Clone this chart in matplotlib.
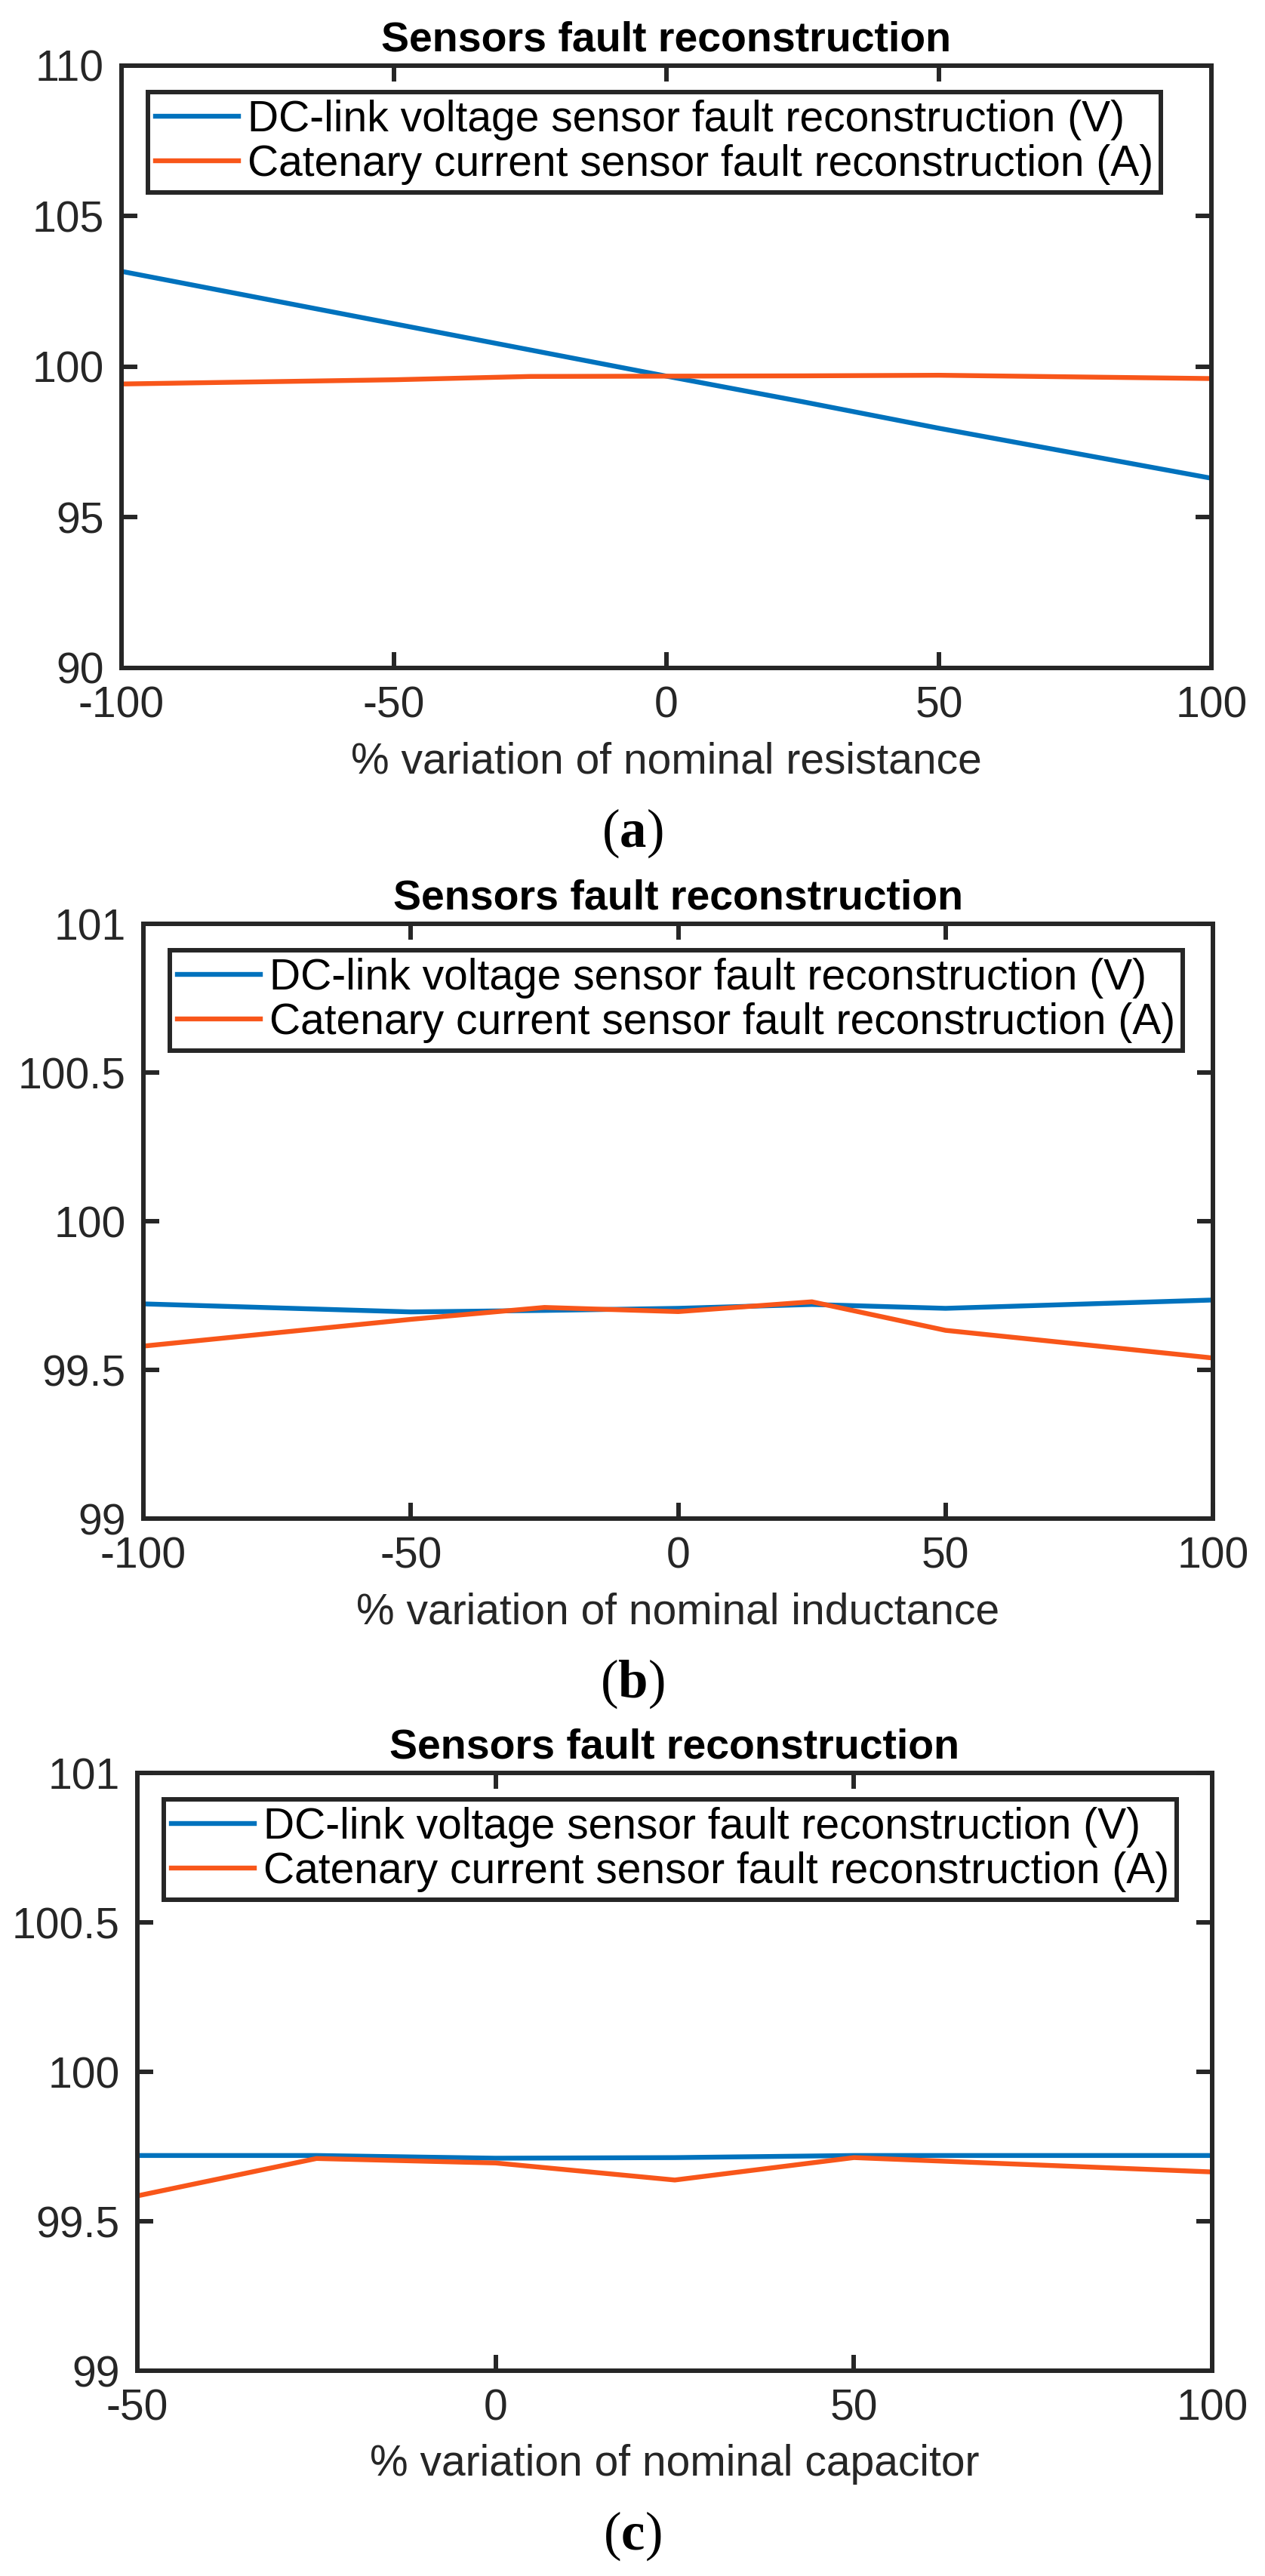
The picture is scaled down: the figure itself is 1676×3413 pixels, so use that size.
import numpy as np
import matplotlib
matplotlib.use("Agg")
import matplotlib.pyplot as plt

plt.rcParams['font.family'] = ['Liberation Sans', 'DejaVu Sans']
plt.rcParams['axes.unicode_minus'] = False
plt.rcParams['mathtext.fontset'] = 'custom'
plt.rcParams['mathtext.rm'] = 'Liberation Serif'
plt.rcParams['mathtext.bf'] = 'Liberation Serif:bold'

# Data
x_res = [-100, -50, -25, 0, 25, 50, 100]
v_res = [103.17, 101.43, 100.56, 99.69, 98.84, 97.96, 96.30]
i_res = [99.43, 99.57, 99.68, 99.69, 99.70, 99.72, 99.61]

x_ind = [-100, -50, -25, 0, 25, 50, 100]
v_ind = [99.722, 99.695, 99.700, 99.707, 99.720, 99.707, 99.735]
i_ind = [99.580, 99.670, 99.710, 99.696, 99.729, 99.633, 99.540]

x_cap = [-50, -25, 0, 25, 50, 100]
v_cap = [99.720, 99.720, 99.711, 99.713, 99.720, 99.720]
i_cap = [99.585, 99.710, 99.695, 99.638, 99.713, 99.665]

legend_labels = ['DC-link voltage sensor fault reconstruction (V)',
                 'Catenary current sensor fault reconstruction (A)']
xlabels = ['% variation of nominal resistance',
           '% variation of nominal inductance',
           '% variation of nominal capacitor']
panel_tags = ['a', 'b', 'c']

blue = '#0072BD'
orange = '#F8561A'
dark = '#262626'

W, H = 1676, 3413
fig = plt.figure(figsize=(W / 100, H / 100), dpi=100)

# axes boxes in pixels: left, right, top, bottom
boxes = [(161, 1605, 87, 885), (190, 1607, 1224, 2012), (182, 1606, 2349, 3141)]
panels = [
    (x_res, v_res, i_res, (-100, 100), [-100, -50, 0, 50, 100], (90, 110), [90, 95, 100, 105, 110]),
    (x_ind, v_ind, i_ind, (-100, 100), [-100, -50, 0, 50, 100], (99, 101), [99, 99.5, 100, 100.5, 101]),
    (x_cap, v_cap, i_cap, (-50, 100), [-50, 0, 50, 100], (99, 101), [99, 99.5, 100, 100.5, 101]),
]

for k, (box, p) in enumerate(zip(boxes, panels)):
    l, r, t, b = box
    xs, v, cur, xlim, xt, ylim, yt = p
    ax = fig.add_axes([l / W, 1 - b / H, (r - l) / W, (b - t) / H])
    ax.plot(xs, v, color=blue, lw=4.6, label=legend_labels[0])
    ax.plot(xs, cur, color=orange, lw=4.6, label=legend_labels[1])
    ax.set_xlim(*xlim)
    ax.set_ylim(*ylim)
    ax.set_xticks(xt)
    ax.set_xticklabels([str(x) for x in xt])
    ax.set_yticks(yt)
    ax.set_yticklabels([('%g' % y) for y in yt])
    ax.tick_params(direction='in', length=15, width=4.3, color=dark, labelcolor=dark,
                   labelsize=41, top=True, right=True, pad=17)
    for s in ax.spines.values():
        s.set_linewidth(4.3)
        s.set_color(dark)
    ax.set_xlabel(xlabels[k], fontsize=41, color=dark, labelpad=14)
    ax.set_title('Sensors fault reconstruction', fontsize=40, fontweight='bold', pad=14)

    # legend anchored ~35 px inside the upper-left corner
    ax_w, ax_h = r - l, b - t
    leg = ax.legend(loc='upper left', bbox_to_anchor=(35 / ax_w, 1 - 35 / ax_h),
                    borderaxespad=0, fontsize=41, handlelength=1.93, handletextpad=0.2,
                    borderpad=0.18, labelspacing=0.08, fancybox=False, framealpha=1,
                    edgecolor=dark)
    leg.get_frame().set_linewidth(4.3)

    fig.text(0.5, 1 - (b + 219) / H, r'($\mathbf{%s}$)' % panel_tags[k],
             family='Liberation Serif', fontsize=51, ha='center', va='center')

fig.savefig('out.png', dpi=100, facecolor='white')
